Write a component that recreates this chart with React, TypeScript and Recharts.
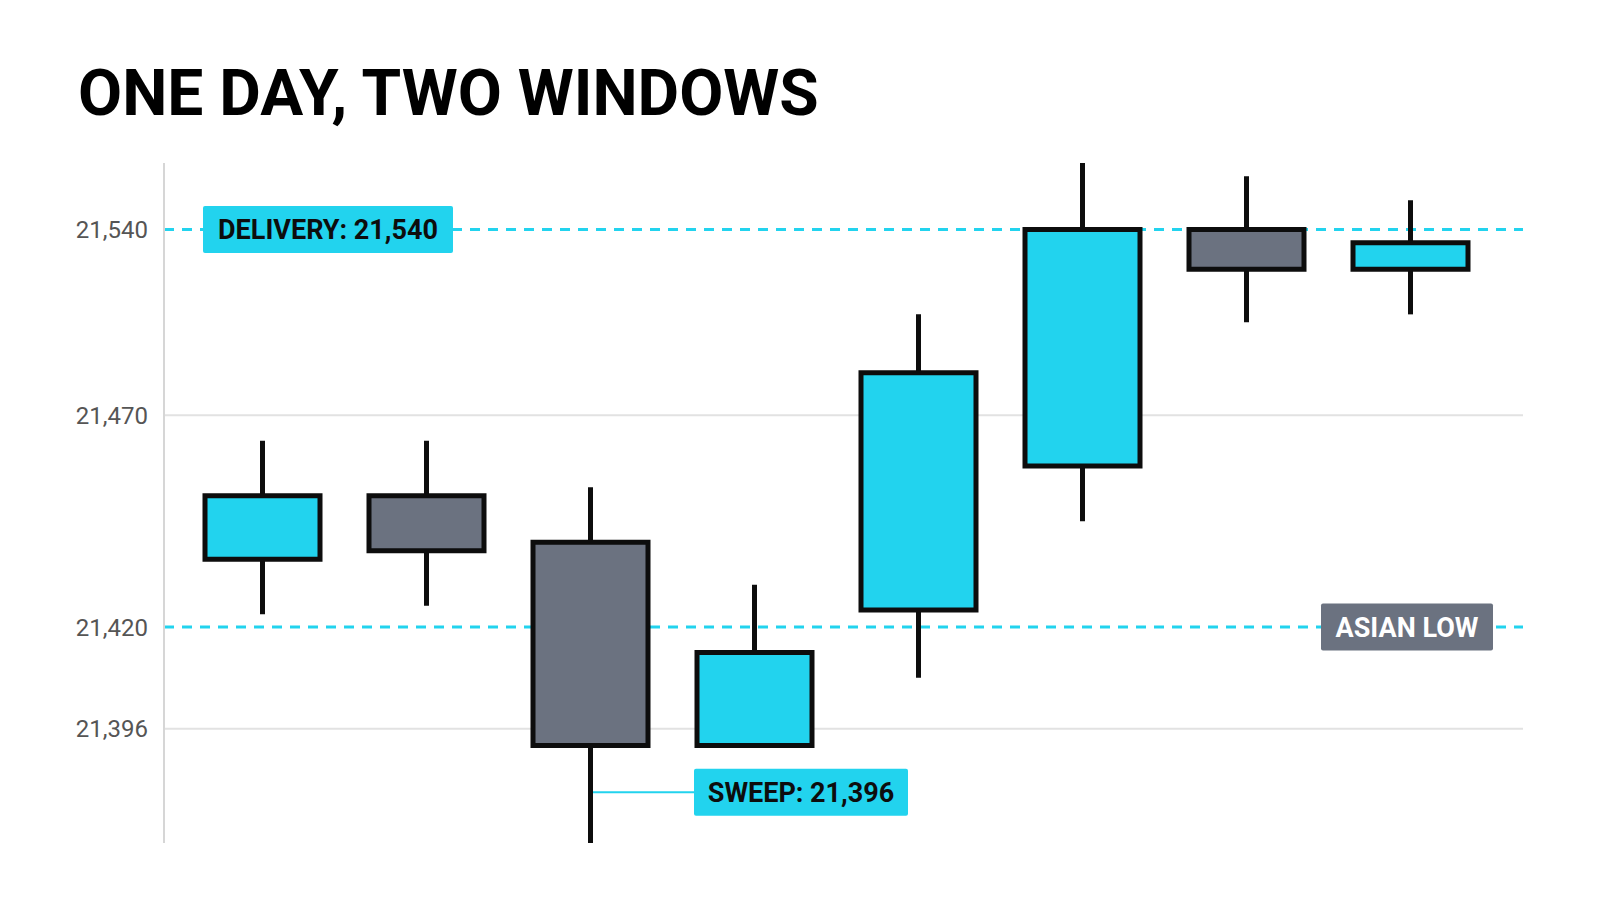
import { ComposedChart, Bar, Cell, XAxis, YAxis, ReferenceLine } from 'recharts'

// candles of the session
const candles = ['C1', 'C2', 'C3', 'C4', 'C5', 'C6', 'C7', 'C8']
const opens = [21436, 21451, 21440, 21392, 21424, 21458, 21540, 21525]
const highs = [21464, 21464, 21453, 21430, 21508, 21565, 21560, 21551]
const lows = [21423, 21425, 21369, 21392, 21408, 21445, 21505, 21508]
const closes = [21451, 21438, 21392, 21414, 21486, 21540, 21525, 21535]

const yTicks = [21396, 21420, 21470, 21540]
const gridLevels = [21470, 21396]
const deliveryLevel = 21540
const asianLowLevel = 21420
const sweepLevel = 21381
const sweepFrom = 'C3'
const sweepTo = 'C4'

const CYAN = '#22d3ee'
const GRAY = '#6b7280'
const INK = '#0d0d0d'

const data = candles.map((c, i) => ({
  c,
  wick: [lows[i], highs[i]],
  body: [Math.min(opens[i], closes[i]), Math.max(opens[i], closes[i])],
  up: closes[i] >= opens[i],
}))

// price axis in the picture is squeezed above 21,470, so use a two-piece linear scale
function brokenScale(breakValue: number, breakFrac: number): any {
  let dom = [0, 1]
  let rng = [0, 1]
  const frac = (v: number) => {
    const [d0, d1] = dom
    if (v <= breakValue) return ((v - d0) / (breakValue - d0)) * breakFrac
    return breakFrac + ((v - breakValue) / (d1 - breakValue)) * (1 - breakFrac)
  }
  const scale: any = (v: number) => rng[0] + frac(Number(v)) * (rng[1] - rng[0])
  scale.domain = (d?: any[]) => {
    if (d === undefined) return dom.slice()
    dom = d.map(Number)
    return scale
  }
  scale.range = (r?: any[]) => {
    if (r === undefined) return rng.slice()
    rng = r.map(Number)
    return scale
  }
  scale.copy = () => brokenScale(breakValue, breakFrac).domain(dom).range(rng)
  scale.ticks = () => yTicks.slice()
  scale.tickFormat = () => (v: number) => String(v)
  return scale
}

const priceScale = brokenScale(21470, 0.629)

function Tag(props: any) {
  const { viewBox, text, anchor, offset, w, bg, color } = props
  const h = 47
  const left = anchor === 'left' ? viewBox.x + offset : viewBox.x + viewBox.width - offset - w
  return (
    <g>
      <rect x={left} y={viewBox.y - h / 2} width={w} height={h} rx={2} fill={bg} />
      <text
        x={left + w / 2}
        y={viewBox.y}
        dy="0.36em"
        textAnchor="middle"
        fontFamily="Roboto, sans-serif"
        fontWeight={700}
        fontSize={27}
        fill={color}
      >
        {text}
      </text>
    </g>
  )
}

export default function App() {
  return (
    <div style={{ position: 'absolute', left: 0, top: 0, width: 1600, height: 914, background: '#fff' }}>
      <div
        style={{
          position: 'absolute',
          left: 78,
          top: 62,
          fontFamily: 'Roboto, sans-serif',
          fontWeight: 700,
          fontSize: 64,
          lineHeight: '64px',
          color: '#000',
          whiteSpace: 'nowrap',
        }}
      >
        ONE DAY, TWO WINDOWS
      </div>
      <ComposedChart
        width={1600}
        height={914}
        data={data}
        margin={{ top: 163, right: 77, bottom: 71, left: 84 }}
      >
        <XAxis xAxisId="body" dataKey="c" hide padding={{ left: 16, right: 31 }} />
        <XAxis xAxisId="wick" dataKey="c" hide padding={{ left: 16, right: 31 }} />
        <YAxis
          type="number"
          domain={[21369, 21565]}
          allowDataOverflow
          scale={priceScale}
          ticks={yTicks}
          interval={0}
          width={80}
          tickFormatter={(v) => Number(v).toLocaleString('en-US')}
          tick={{ fill: '#555', fontSize: 24, fontFamily: 'Roboto, sans-serif' }}
          tickLine={false}
          tickSize={6}
          tickMargin={10}
          axisLine={{ stroke: '#d6d6d6', strokeWidth: 2 }}
        />
        {gridLevels.map((lv) => (
          <ReferenceLine key={lv} xAxisId="body" y={lv} stroke="#e2e2e2" strokeWidth={2} zIndex={50} />
        ))}
        <ReferenceLine
          xAxisId="body"
          y={deliveryLevel}
          stroke={CYAN}
          strokeWidth={3}
          strokeDasharray="10 8"
          zIndex={100}
          label={(p: any) => (
            <Tag {...p} text="DELIVERY: 21,540" anchor="left" offset={39} w={250} bg={CYAN} color={INK} />
          )}
        />
        <ReferenceLine
          xAxisId="body"
          y={asianLowLevel}
          stroke={CYAN}
          strokeWidth={3}
          strokeDasharray="10 8"
          zIndex={100}
          label={(p: any) => (
            <Tag {...p} text="ASIAN LOW" anchor="right" offset={30} w={172} bg={GRAY} color="#fff" />
          )}
        />
        <ReferenceLine
          xAxisId="body"
          segment={[
            { x: sweepFrom, y: sweepLevel },
            { x: sweepTo, y: sweepLevel },
          ]}
          stroke={CYAN}
          strokeWidth={2}
          zIndex={100}
          label={(p: any) => (
            <Tag {...p} text="SWEEP: 21,396" anchor="left" offset={104} w={214} bg={CYAN} color={INK} />
          )}
        />
        <Bar xAxisId="wick" dataKey="wick" barSize={5} fill={INK} isAnimationActive={false} />
        <Bar xAxisId="body" dataKey="body" barSize={115} stroke={INK} strokeWidth={5} isAnimationActive={false}>
          {data.map((d) => (
            <Cell key={d.c} fill={d.up ? CYAN : GRAY} />
          ))}
        </Bar>
      </ComposedChart>
    </div>
  )
}
